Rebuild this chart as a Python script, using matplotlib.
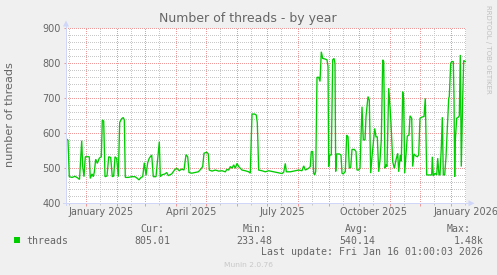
import datetime as dt
import matplotlib
matplotlib.use("Agg")
import matplotlib.pyplot as plt
import matplotlib.dates as mdates
from matplotlib.ticker import MultipleLocator, NullFormatter
from matplotlib.lines import Line2D
from matplotlib.patches import Polygon, Rectangle
from matplotlib.transforms import IdentityTransform, offset_copy

# ---------------- data ----------------
title = "Number of threads - by year"
y_label = "number of threads"
series_name = "threads"
range_start = dt.datetime(2024, 12, 12, 1, 0, 3)
range_end = dt.datetime(2026, 1, 16, 1, 0, 3)
y_ticks = [400, 500, 600, 700, 800, 900]
x_label_months = [dt.datetime(2025, 1, 1), dt.datetime(2025, 4, 1), dt.datetime(2025, 7, 1),
                  dt.datetime(2025, 10, 1), dt.datetime(2026, 1, 1)]
legend_headers = ["Cur:", "Min:", "Avg:", "Max:"]
legend_values = ["805.01", "233.48", "540.14", "1.48k"]
last_update = "Last update: Fri Jan 16 01:00:03 2026"
footer = "Munin 2.0.76"
watermark = "RRDTOOL / TOBI OETIKER"

# days elapsed since range_start
day_offsets = [
    0.5, 2, 3.3, 6, 9, 12, 13.5, 15.7, 16.7, 18, 19.3, 23.3, 24.3, 26, 27.3, 28.3, 29.7, 31.3,
    33.3, 35.3, 36.3, 37.7, 39, 41, 42.7, 44.7, 46.3, 47.7, 49, 50.7, 52.3, 53.7, 55.7, 57.3,
    58.3, 59.3, 62.3, 65.7, 69, 71, 73, 75, 76.7, 78.3, 80, 81.7, 83.3, 85.7, 87.3, 90, 93.3,
    94.3, 95.7, 99, 100.7, 102.3, 105.7, 109, 110.7, 113.3, 115.7, 118, 120, 121.7, 123, 125.7,
    129, 132.3, 134, 136.7, 138, 140.7, 142.3, 143.3, 146, 149.3, 152.7, 156, 159.3, 161,
    162.7, 164.3, 166, 167.7, 169.3, 171, 172.7, 174.3, 176, 179.3, 182.7, 184.3, 186, 188.7,
    190.3, 191.3, 192.7, 196, 199.3, 202.7, 206, 209.3, 212.7, 216, 217.7, 219.3, 220.3, 224.3,
    229.3, 232.7, 236, 237.7, 239.3, 242.7, 244.3, 245.3, 246.7, 247.7, 248.7, 249.7, 251,
    252.7, 254, 255.3, 256.7, 259.3, 261, 262, 262.7, 263.7, 265.3, 266.7, 268, 269, 269.7,
    270.7, 273.3, 275, 276, 277.3, 279.3, 280.7, 282, 283.3, 284.7, 286, 288.3, 290, 291,
    292.7, 294, 296, 297.3, 299, 300, 302, 303.3, 304.7, 306, 308.7, 310, 311.3, 312.7, 314,
    315.3, 316.7, 317.7, 319, 320, 321, 322.7, 324, 325, 326.7, 328.3, 330, 331.7, 332.7,
    334.3, 335.3, 336.7, 337.7, 338.7, 340, 341.3, 343, 344, 345.7, 346.7, 348, 350, 351.3,
    352.7, 354, 355.7, 358, 359.3, 360.7, 363.3, 365.7, 366.3, 367.3, 369, 370.7, 371.7, 373,
    374, 375.3, 376.3, 377.3, 378.7, 380, 381.7, 382.7, 383.3, 384.7, 385.7, 387.3, 388,
    388.7, 389.3, 390.7, 392.3, 393.3, 394.3, 395.3, 396.7, 397.7, 399.3, 400,
]
threads = [
    584, 580, 476, 474, 477, 472, 468, 579, 505, 476, 533, 533, 471, 484, 476, 489, 526, 514,
    529, 533, 638, 635, 476, 478, 533, 531, 476, 478, 533, 528, 476, 631, 642, 645,
    638, 474, 474, 476, 476, 472, 467, 474, 476, 516, 480, 516, 529, 538, 476, 476, 576,
    476, 481, 484, 488, 479, 484, 497, 500, 493, 498, 495, 539, 533, 488, 486,
    488, 490, 495, 505, 543, 546, 541, 495, 492, 495, 492, 493, 490, 497,
    495, 505, 500, 510, 500, 514, 505, 500, 495, 493, 490, 486, 655, 655,
    652, 630, 495, 493, 490, 493, 491, 489, 487, 485, 489, 514, 490, 490,
    493, 495, 493, 507, 495, 500, 505, 548, 548, 486, 481, 491, 760,
    760, 748, 833, 814, 812, 810, 791, 505, 538, 538, 810, 814, 800, 491,
    541, 541, 538, 486, 484, 491, 595, 590, 500, 503, 554, 554, 548, 495,
    495, 500, 676, 581, 581, 648, 705, 695, 486, 533, 614, 590, 590, 490, 524,
    581, 810, 805, 500, 510, 505, 729, 676, 629, 519, 500, 524, 543, 490,
    538, 520, 719, 695, 486, 540, 592, 595, 650, 643, 505, 541, 535, 533,
    538, 643, 646, 648, 700, 481, 481, 481, 533, 478, 486, 481, 529, 481,
    481, 560, 646, 481, 481, 533, 638, 700, 705, 800, 805, 805, 700,
    476, 580, 643, 646, 650, 824, 505, 700, 808, 805, 805,
]

# ---------------- style ----------------
W, H = 497, 275
BACK = "#F0F0F0"
FONT_C = "#666666"
AXIS_C = "#CFD6F8"
GRID_C = "#C8C8C8"
MGRID_C = "#EE9A9A"
LINE_C = "#00CC00"

fig = plt.figure(figsize=(W / 100, H / 100), dpi=100, facecolor=BACK)

ax_l, ax_r, ax_t, ax_b = 66, 466, 28.3, 203.3
ax = fig.add_axes([ax_l / W, 1 - ax_b / H, (ax_r - ax_l) / W, (ax_b - ax_t) / H])
ax.set_facecolor("white")
for s in ax.spines.values():
    s.set_visible(False)

dates = [range_start + dt.timedelta(days=d) for d in day_offsets]

ax.set_xlim(range_start, range_end)
ax.set_ylim(400, 900)

ax.xaxis.set_major_locator(mdates.MonthLocator())
ax.xaxis.set_minor_locator(mdates.MonthLocator(bymonthday=15))
ax.xaxis.set_major_formatter(NullFormatter())
ax.xaxis.set_minor_formatter(NullFormatter())
ax.yaxis.set_major_locator(MultipleLocator(100))
ax.yaxis.set_minor_locator(MultipleLocator(20))
ax.yaxis.set_major_formatter(NullFormatter())
ax.yaxis.set_minor_formatter(NullFormatter())

dash = (0, (1, 2))
ax.grid(which="minor", color=GRID_C, linestyle=dash, linewidth=0.72, antialiased=False)
ax.grid(which="major", color=MGRID_C, linestyle=dash, linewidth=0.72, antialiased=False)
ax.set_axisbelow(True)
ax.tick_params(axis="x", which="major", direction="out", length=2.2, width=0.72, color=MGRID_C)
ax.tick_params(axis="x", which="minor", direction="out", length=1.4, width=0.72, color=GRID_C)
ax.tick_params(axis="y", which="major", direction="out", length=1.6, width=0.72, color=MGRID_C)
ax.tick_params(axis="y", which="minor", length=0)

ax.plot(dates, threads, color=LINE_C, linewidth=0.95, solid_joinstyle="miter", zorder=5)

# y tick labels
ytf = offset_copy(ax.get_yaxis_transform(), fig=fig, x=-5.5, y=-3.6, units="dots")
for v in y_ticks:
    ax.text(0, v, str(v), transform=ytf, ha="right", va="baseline",
            fontsize=7, color=FONT_C, family="DejaVu Sans")

# x labels (centered mid-month)
xtf = offset_copy(ax.get_xaxis_transform(), fig=fig, x=0, y=-(215 - ax_b), units="dots")
for m in x_label_months:
    ax.text(m + dt.timedelta(days=15), 0, m.strftime("%B %Y"), transform=xtf,
            ha="center", va="baseline", fontsize=7, color=FONT_C,
            family="DejaVu Sans", clip_on=False)

# axis lines with arrows (pixel coords)
def P(x, y):
    return (x, H - y)

idt = IdentityTransform()
fig.add_artist(Line2D([P(66, 205)[0], P(66, 24)[0]], [P(66, 205)[1], P(66, 24)[1]],
                      color=AXIS_C, lw=0.72, transform=idt))
fig.add_artist(Line2D([P(63, ax_b)[0], P(471, ax_b)[0]], [P(63, ax_b)[1], P(471, ax_b)[1]],
                      color=AXIS_C, lw=0.72, transform=idt))
fig.add_artist(Polygon([P(66, 20.5), P(63, 26.5), P(69, 26.5)], closed=True,
                       facecolor=AXIS_C, edgecolor="none", transform=idt))
fig.add_artist(Polygon([P(474.5, ax_b), P(468.5, ax_b - 3), P(468.5, ax_b + 3)], closed=True,
                       facecolor=AXIS_C, edgecolor="none", transform=idt))

def ft(x, y, s, **kw):
    fig.text(x / W, 1 - y / H, s, **kw)

ft(247.5, 22, title, ha="center", va="baseline", fontsize=9, color=FONT_C, family="DejaVu Sans")
ft(10, 115, y_label, ha="center", va="center", rotation=90, fontsize=8.1, color=FONT_C,
   family="DejaVu Sans")

mono = dict(family="DejaVu Sans Mono", fontsize=7.1, color=FONT_C, va="baseline")
header_x = [140, 242.7, 345, 446.7]
value_x = [134.3, 236.7, 339, 453.3]
for hx, h in zip(header_x, legend_headers):
    ft(hx, 231.5, h, ha="left", **mono)
for vx, v in zip(value_x, legend_values):
    ft(vx, 243.5, v, ha="left", **mono)
fig.add_artist(Rectangle((14 / W, 1 - 243 / H), 6 / W, 6 / H, facecolor=LINE_C,
                         edgecolor="none", transform=fig.transFigure))
ft(26.7, 243.5, series_name, ha="left", **mono)
ft(482.7, 255, last_update, ha="right", **mono)

ft(248, 267, footer, ha="center", va="baseline", fontsize=5.4, color="#C8C8C8",
   family="DejaVu Sans")
ft(488, 5, watermark, ha="center", va="top", rotation=270, fontsize=5.0, color="#C0C0C0",
   family="DejaVu Sans")

fig.savefig("out.png", dpi=100, facecolor=BACK)
